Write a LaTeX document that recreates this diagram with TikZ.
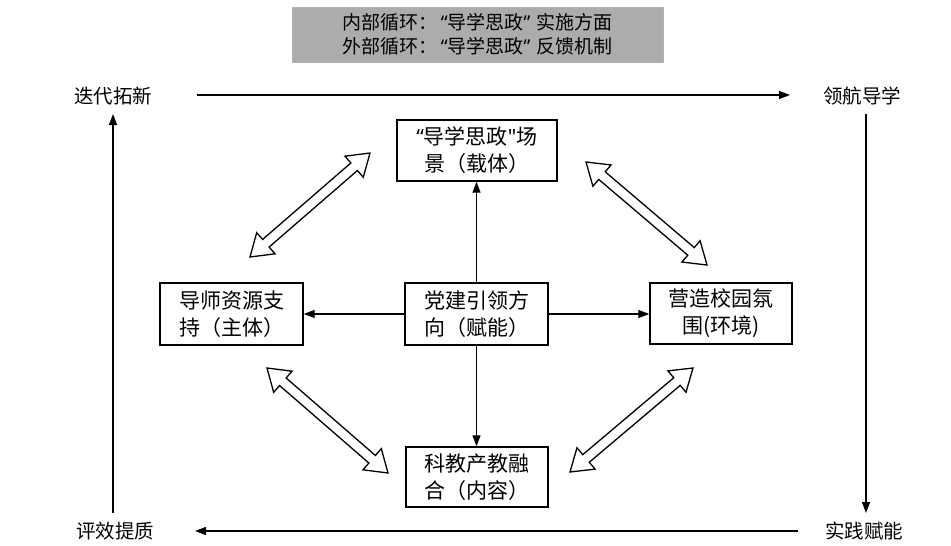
\documentclass[tikz,border=0pt]{standalone}
\usepackage{fontspec}
\setmainfont{Noto Sans CJK SC}
\newfontfamily\latinq{Noto Sans}[Ligatures=TeXOff]
\usetikzlibrary{calc,arrows.meta}
\newcommand{\hl}{21pt}
\newcommand{\hw}{14pt}
\newcommand{\sw}{5pt}
\newcommand{\hollowarrow}[2]{%
  \draw[hollow] (#1)
   -- ($(#1)!\hl!(#2)!\hw!90:(#2)$)
   -- ($(#1)!\hl!(#2)!\sw!90:(#2)$)
   -- ($(#2)!\hl!(#1)!\sw!-90:(#1)$)
   -- ($(#2)!\hl!(#1)!\hw!-90:(#1)$)
   -- (#2)
   -- ($(#2)!\hl!(#1)!\hw!90:(#1)$)
   -- ($(#2)!\hl!(#1)!\sw!90:(#1)$)
   -- ($(#1)!\hl!(#2)!\sw!-90:(#2)$)
   -- ($(#1)!\hl!(#2)!\hw!-90:(#2)$)
   -- cycle;}
\newcommand{\myLq}{{\latinq “}}
\newcommand{\myRq}{{\latinq ”}}
\begin{document}
\begin{tikzpicture}[x=1pt,y=-1pt,
  box/.style={draw, line width=1.4pt, align=center, font=\fontsize{21}{27}\selectfont, inner sep=0pt},
  corner/.style={font=\fontsize{19.5}{22}\selectfont, inner sep=1pt},
  arr/.style={line width=1.3pt, -{Triangle[length=11pt,width=8pt]}},
  hollow/.style={draw, line width=1.3pt, fill=white, line join=miter},
  header/.style={fill=gray!65, draw=gray!60, align=center, font=\fontsize{19}{24.5}\selectfont, inner sep=0pt}]
\useasboundingbox (0,0) rectangle (951,546);
\fill[white] (0,0) rectangle (951,546);
% header
\node[header, minimum width=371pt, minimum height=55pt] (hdr) at (477.5,34.5) {内部循环：\,\myLq 导学思政\myRq\hspace{6pt}实施方面\\外部循环：\,\myLq 导学思政\myRq\hspace{6pt}反馈机制};
% boxes
\node[box, minimum width=160pt, minimum height=61pt] (top) at (477,150.5) {\myLq 导学思政{\latinq "}场\\景（载体）};
\node[box, minimum width=143pt, minimum height=62pt] (left) at (231.5,314) {导师资源支\\持（主体）};
\node[box, minimum width=143pt, minimum height=62pt] (center) at (476.5,314) {党建引领方\\向（赋能）};
\node[box, minimum width=142pt, minimum height=61pt] (right) at (721,313.5) {营造校园氛\\围(环境)};
\node[box, minimum width=142pt, minimum height=60pt] (bottom) at (477,477) {科教产教融\\合（内容）};
% inner arrows
\draw[arr] (center.north) -- (center.north |- top.south);
\draw[arr] (center.west) -- (left.east);
\draw[arr] (center.east) -- (center.east -| right.west);
\draw[arr] (center.south) -- (center.south |- bottom.north);
% hollow double arrows
\coordinate (ul1) at (250,257);
\coordinate (ul2) at (370,153);
\coordinate (ur1) at (586,162);
\coordinate (ur2) at (707,265);
\coordinate (ll1) at (267,368);
\coordinate (ll2) at (388,473);
\coordinate (lr1) at (693,368);
\coordinate (lr2) at (570,472);
\hollowarrow{ul1}{ul2}
\hollowarrow{ur1}{ur2}
\hollowarrow{ll1}{ll2}
\hollowarrow{lr1}{lr2}
% corners
\node[corner] (tl) at (113,96) {迭代拓新};
\node[corner] (tr) at (862,96) {领航导学};
\node[corner] (br) at (864,531) {实践赋能};
\node[corner] (bl) at (115,531) {评效提质};
\coordinate (t1) at (197,95);
\coordinate (t2) at (790,95);
\coordinate (r1) at (866,114);
\coordinate (r2) at (866,513);
\coordinate (b1) at (798,531);
\coordinate (b2) at (195,531);
\coordinate (l1) at (113,513);
\coordinate (l2) at (113,114);
\draw[arr] (t1) -- (t2);
\draw[arr] (r1) -- (r2);
\draw[arr] (b1) -- (b2);
\draw[arr] (l1) -- (l2);
\end{tikzpicture}
\end{document}
